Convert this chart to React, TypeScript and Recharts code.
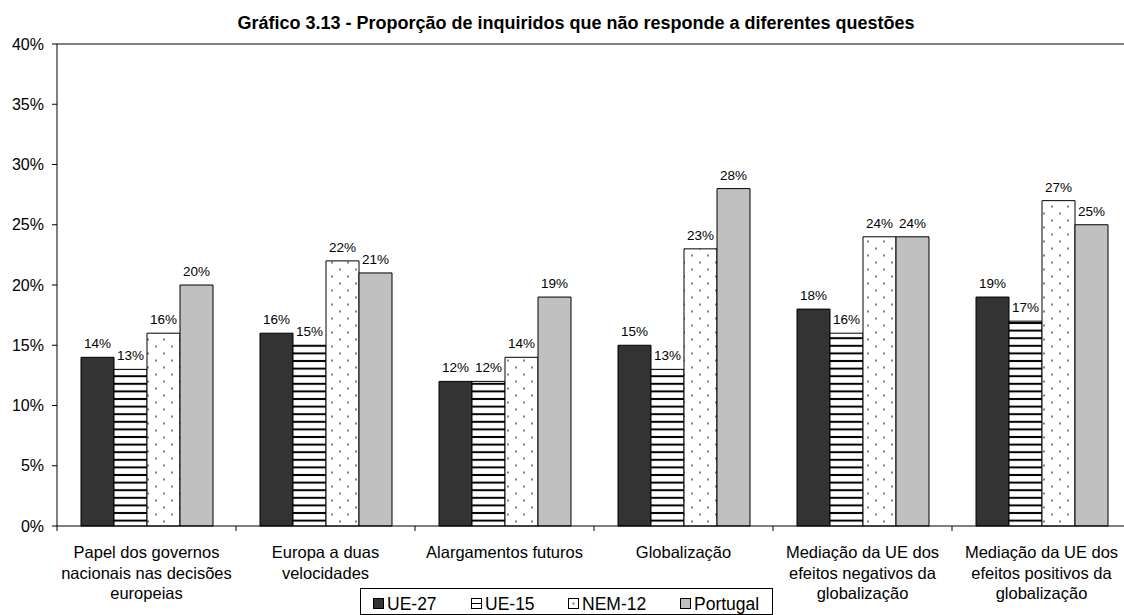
import React from "react"
import {
  BarChart,
  Bar,
  XAxis,
  YAxis,
  LabelList,
  ReferenceLine,
} from "recharts"

const categories = [
  "Papel dos governos\nnacionais nas decisões\neuropeias",
  "Europa a duas\nvelocidades",
  "Alargamentos futuros",
  "Globalização",
  "Mediação da UE dos\nefeitos negativos da\nglobalização",
  "Mediação da UE dos\nefeitos positivos da\nglobalização",
]

const ue27 = [14, 16, 12, 15, 18, 19]
const ue15 = [13, 15, 12, 13, 16, 17]
const nem12 = [16, 22, 14, 23, 24, 27]
const portugal = [20, 21, 19, 28, 24, 25]

const yTicks = [0, 5, 10, 15, 20, 25, 30, 35, 40]

const data = categories.map((name, i) => ({
  name,
  ue27: ue27[i],
  ue15: ue15[i],
  nem12: nem12[i],
  portugal: portugal[i],
}))

const FONT = "'Liberation Sans', Arial, sans-serif"

function CategoryTick({ x, y, payload }: any) {
  const lines = String(payload.value).split("\n")
  const half = payload.offset ?? 0
  return (
    <g>
      <line x1={x - half} x2={x - half} y1={y - 5} y2={y} stroke="#000" />
      <text
        x={x}
        y={y + 27}
        textAnchor="middle"
        fontSize={16.5}
        fontFamily={FONT}
        fill="#000"
      >
        {lines.map((l, i) => (
          <tspan key={i} x={x} dy={i === 0 ? 0 : 20.5}>
            {l}
          </tspan>
        ))}
      </text>
    </g>
  )
}

const pct = (v: any) => `${v}%`

function LegendBox() {
  const item = (label: string, swatch: React.ReactNode, left: number) => (
    <div
      style={{
        position: "absolute",
        left,
        top: 5,
        display: "flex",
        alignItems: "center",
        fontSize: 17.5,
        lineHeight: "20px",
      }}
    >
      <svg width={12} height={12} style={{ marginRight: 2 }}>
        {swatch}
      </svg>
      {label}
    </div>
  )
  return (
    <div
      style={{
        position: "absolute",
        left: 360,
        top: 588,
        width: 413,
        height: 27,
        border: "1px solid #000",
        boxSizing: "border-box",
        fontFamily: FONT,
        color: "#000",
      }}
    >
      {item("UE-27", <rect x={0.5} y={0.5} width={10} height={10} fill="#333" stroke="#000" />, 12)}
      {item(
        "UE-15",
        <g>
          <rect x={0.5} y={0.5} width={10} height={10} fill="#fff" stroke="#000" />
          <line x1={0} x2={11} y1={5.5} y2={5.5} stroke="#000" />
        </g>,
        110
      )}
      {item(
        "NEM-12",
        <g>
          <rect x={0.5} y={0.5} width={10} height={10} fill="#fff" stroke="#000" />
          <rect x={4.5} y={4.5} width={2} height={2} fill="#777" />
        </g>,
        207
      )}
      {item("Portugal", <rect x={0.5} y={0.5} width={10} height={10} fill="#c0c0c0" stroke="#000" />, 319)}
    </div>
  )
}

export default function App() {
  return (
    <div
      style={{
        position: "absolute",
        left: 0,
        top: 0,
        width: 1124,
        height: 615,
        overflow: "hidden",
        background: "#fff",
        fontFamily: FONT,
      }}
    >
      <div
        style={{
          position: "absolute",
          left: 0,
          width: 1152,
          top: 13,
          textAlign: "center",
          fontSize: 18,
          lineHeight: "21px",
          fontWeight: "bold",
          color: "#000",
        }}
      >
        Gráfico 3.13 - Proporção de inquiridos que não responde a diferentes questões
      </div>
      <BarChart
        width={1135}
        height={615}
        data={data}
        margin={{ top: 44, right: 4, left: 0, bottom: 0 }}
        barCategoryGap={24}
        barGap={0}
      >
        <defs>
          <pattern id="hlines" patternUnits="userSpaceOnUse" width={8} height={7.6}>
            <rect x={0} y={0} width={8} height={7.6} fill="#fff" />
            <rect x={0} y={2.8} width={8} height={2} fill="#000" />
          </pattern>
          <pattern id="dots" patternUnits="userSpaceOnUse" width={16} height={14}>
            <rect x={0} y={0} width={16} height={14} fill="#fff" />
            <rect x={3} y={2.5} width={2} height={2} fill="#808080" />
            <rect x={11} y={9.5} width={2} height={2} fill="#808080" />
          </pattern>
        </defs>
        <ReferenceLine y={40} stroke="#808080" strokeWidth={2} />
        <XAxis
          dataKey="name"
          interval={0}
          height={89}
          tickSize={5}
          tickMargin={0}
          tickLine={false}
          axisLine={{ stroke: "#000" }}
          tick={<CategoryTick />}
        />
        <YAxis
          width={57}
          domain={[0, 40]}
          ticks={yTicks}
          interval={0}
          tickFormatter={pct}
          tickSize={5}
          tickMargin={8}
          axisLine={{ stroke: "#000" }}
          tickLine={{ stroke: "#000" }}
          tick={{ fontSize: 16, fill: "#000", fontFamily: FONT }}
        />
        <Bar dataKey="ue27" fill="#333333" stroke="#000" strokeWidth={1} isAnimationActive={false}>
          <LabelList dataKey="ue27" position="top" offset={9} formatter={pct} fontSize={13.5} fill="#000" fontFamily={FONT} />
        </Bar>
        <Bar dataKey="ue15" fill="url(#hlines)" stroke="#000" strokeWidth={1} isAnimationActive={false}>
          <LabelList dataKey="ue15" position="top" offset={9} formatter={pct} fontSize={13.5} fill="#000" fontFamily={FONT} />
        </Bar>
        <Bar dataKey="nem12" fill="url(#dots)" stroke="#000" strokeWidth={1} isAnimationActive={false}>
          <LabelList dataKey="nem12" position="top" offset={9} formatter={pct} fontSize={13.5} fill="#000" fontFamily={FONT} />
        </Bar>
        <Bar dataKey="portugal" fill="#c0c0c0" stroke="#000" strokeWidth={1} isAnimationActive={false}>
          <LabelList dataKey="portugal" position="top" offset={9} formatter={pct} fontSize={13.5} fill="#000" fontFamily={FONT} />
        </Bar>
      </BarChart>
      <LegendBox />
    </div>
  )
}
